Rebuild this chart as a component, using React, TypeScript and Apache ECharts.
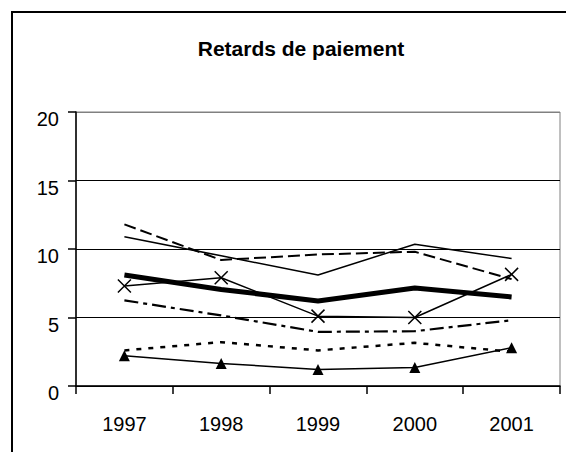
import React, { useEffect, useRef } from "react";
import * as echarts from "echarts";

const titleText = "Retards de paiement";
const years = ["1997", "1998", "1999", "2000", "2001"];
const yTicks = { min: 0, max: 20, interval: 5 };

const seriesThinSolid = [10.9, 9.5, 8.1, 10.35, 9.3];
const seriesLongDash = [11.8, 9.2, 9.6, 9.8, 7.8];
const seriesThick = [8.1, 7.05, 6.2, 7.15, 6.5];
const seriesCross = [7.3, 7.9, 5.1, 5.0, 8.15];
const seriesDashDot = [6.25, 5.15, 3.95, 4.0, 4.8];
const seriesDotted = [2.6, 3.2, 2.6, 3.15, 2.5];
const seriesTriangle = [2.2, 1.65, 1.2, 1.35, 2.8];

const FONT = 'Arial, "Liberation Sans", sans-serif';

export default function App() {
  const ref = useRef<HTMLDivElement>(null);
  useEffect(() => {
    if (!ref.current) return;
    const chart = echarts.init(ref.current, undefined, { renderer: "svg" });
    const base = {
      type: "line",
      symbol: "none",
      silent: true,
      color: "#000",
    };
    chart.setOption({
      animation: false,
      backgroundColor: "#fff",
      title: {
        text: titleText,
        left: 296,
        top: 33,
        textAlign: "center",
        textStyle: { fontFamily: FONT, fontSize: 21, fontWeight: "bold", color: "#000" },
      },
      graphic: [
        {
          type: "rect",
          shape: { x: 12, y: 12, width: 640, height: 520 },
          style: { fill: "none", stroke: "#000", lineWidth: 2 },
          z: 100,
        },
      ],
      grid: {
        left: 76,
        top: 112,
        right: 6,
        bottom: 66,
        show: true,
        borderColor: "#808080",
        borderWidth: 1,
        backgroundColor: "transparent",
      },
      xAxis: {
        type: "category",
        data: years,
        boundaryGap: true,
        axisLine: { lineStyle: { color: "#000", width: 1.5 } },
        axisTick: { show: true, inside: false, length: 8, lineStyle: { color: "#000", width: 1.5 } },
        axisLabel: { fontFamily: FONT, fontSize: 20, color: "#000", margin: 28 },
        splitLine: { show: false },
      },
      yAxis: {
        type: "value",
        min: yTicks.min,
        max: yTicks.max,
        interval: yTicks.interval,
        axisLine: { show: true, lineStyle: { color: "#000", width: 1.5 } },
        axisTick: { show: true, inside: false, length: 8, lineStyle: { color: "#000", width: 1.5 } },
        axisLabel: {
          fontFamily: FONT,
          fontSize: 20,
          color: "#000",
          margin: 17,
          verticalAlign: "top",
          padding: [-3, 0, 0, 0],
        },
        splitLine: {
          show: true,
          lineStyle: { color: ["#000", "#000", "#000", "#000", "#808080"], width: 1.2 },
        },
      },
      series: [
        { ...base, name: "A", data: seriesThinSolid, lineStyle: { color: "#000", width: 1.5 } },
        { ...base, name: "B", data: seriesLongDash, lineStyle: { color: "#000", width: 2, type: [12, 5] } },
        { ...base, name: "C", data: seriesThick, lineStyle: { color: "#000", width: 5 } },
        {
          ...base,
          name: "D",
          data: seriesCross,
          symbol: "path://M0,0L10,10M10,0L0,10",
          symbolSize: 13,
          itemStyle: { color: "none", borderColor: "#000", borderWidth: 1.5 },
          lineStyle: { color: "#000", width: 1.5 },
        },
        { ...base, name: "E", data: seriesDashDot, lineStyle: { color: "#000", width: 2.2, type: [14, 5, 4, 5] } },
        { ...base, name: "F", data: seriesDotted, lineStyle: { color: "#000", width: 2.5, type: [5, 7] } },
        {
          ...base,
          name: "G",
          data: seriesTriangle,
          symbol: "triangle",
          symbolSize: 11,
          itemStyle: { color: "#000" },
          lineStyle: { color: "#000", width: 1.5 },
        },
      ],
    });
    return () => chart.dispose();
  }, []);
  return (
    <div
      ref={ref}
      style={{ position: "absolute", left: 0, top: 0, width: 566, height: 452 }}
    />
  );
}
